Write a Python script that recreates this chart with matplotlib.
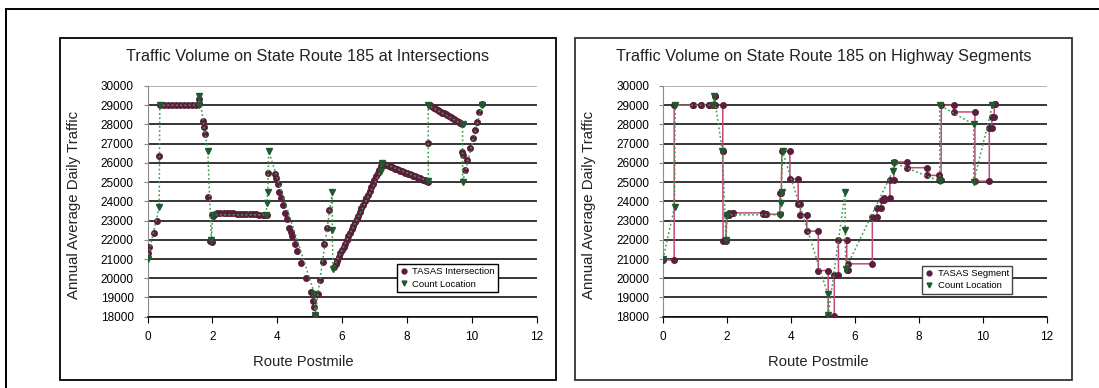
import matplotlib
matplotlib.use("Agg")
import matplotlib.pyplot as plt
from matplotlib.patches import Rectangle
from matplotlib.lines import Line2D

plt.rcParams["font.family"] = ["Liberation Sans", "DejaVu Sans"]

W, H = 1099, 388

# ---- data ----
yticks = list(range(18000, 30001, 1000))
xticks = list(range(0, 13, 2))

# TASAS intersections (left chart)
int_x = [0.02, 0.06, 0.20, 0.28, 0.36,
         0.40, 0.50, 0.62, 0.75, 0.88, 1.00, 1.12, 1.25, 1.38, 1.50, 1.58, 1.60,
         1.72, 1.75, 1.78, 1.86, 1.94, 1.98,
         2.00, 2.03, 2.08, 2.15, 2.25, 2.35, 2.45, 2.55, 2.65, 2.75, 2.85, 2.95,
         3.05, 3.15, 3.25, 3.35, 3.45, 3.55, 3.63, 3.68,
         3.73,
         3.93, 3.97, 4.02, 4.07, 4.12, 4.18, 4.25, 4.30, 4.38, 4.42, 4.45, 4.55,
         4.62, 4.72, 4.90, 5.05, 5.12, 5.15, 5.17,
         5.27, 5.32, 5.40, 5.46, 5.53, 5.60,
         5.75, 5.80, 5.85, 5.90, 5.95, 6.00, 6.05, 6.10, 6.15, 6.20, 6.25, 6.30,
         6.35, 6.40, 6.45, 6.50, 6.55, 6.60, 6.65, 6.70, 6.75, 6.80, 6.85, 6.90,
         6.95, 7.00, 7.05, 7.10, 7.15, 7.20, 7.24,
         7.30, 7.35, 7.40, 7.45, 7.50, 7.55, 7.60, 7.65, 7.70, 7.75, 7.80, 7.85,
         7.90, 7.95, 8.00, 8.05, 8.10, 8.15, 8.20, 8.25, 8.30, 8.35, 8.40, 8.45,
         8.50, 8.55, 8.60, 8.65,
         8.66,
         8.70, 8.75, 8.80, 8.85, 8.90, 8.95, 9.00, 9.05, 9.10, 9.15, 9.20, 9.25,
         9.30, 9.35, 9.40, 9.45, 9.50, 9.55, 9.60, 9.65, 9.70,
         9.69, 9.72,
         9.79, 9.86, 9.95, 10.03, 10.10, 10.15, 10.23, 10.31]
int_y = [21300, 21650, 22350, 23000, 26350,
         29000, 29000, 29000, 29000, 29000, 29000, 29000, 29000, 29000, 29000, 29050, 29300,
         28200, 27850, 27500, 24250, 21950, 21900,
         23300, 23250, 23350, 23400, 23400, 23400, 23400, 23380, 23380, 23360, 23360, 23350,
         23350, 23340, 23330, 23320, 23310, 23300, 23300, 23300,
         25500,
         25400, 25200, 24900, 24500, 24200, 23800, 23400, 23100, 22600, 22400, 22200, 21800,
         21400, 20800, 20000, 19300, 18800, 18500, 18100,
         19200, 19900, 20850, 21800, 22600, 23550,
         20600, 20750, 20900, 21100, 21300, 21450, 21650, 21800, 22000, 22200, 22350, 22550,
         22700, 22900, 23100, 23250, 23450, 23650, 23800, 24000, 24200, 24350, 24550, 24750,
         24900, 25100, 25300, 25450, 25650, 25850, 26000,
         25950, 25900, 25880, 25850, 25800, 25770, 25730, 25700, 25670, 25630, 25600, 25570,
         25530, 25500, 25470, 25430, 25400, 25370, 25330, 25300, 25270, 25230, 25200, 25170,
         25130, 25100, 25070, 25030,
         27050,
         29000, 28950, 28900, 28850, 28800, 28760, 28720, 28670, 28620, 28570, 28520, 28480,
         28430, 28380, 28330, 28280, 28230, 28180, 28140, 28090, 28040,
         26550, 26400,
         25650, 26150, 26750, 27300, 27700, 28150, 28650, 29050]

# TASAS highway segments (right chart): begin, end, AADT
seg_begin = [0.00, 0.35, 0.95, 1.18, 1.45, 1.55, 1.62, 1.64, 1.87, 1.88, 1.99, 2.05, 2.20,
             3.14, 3.22, 3.67, 3.72, 3.97, 4.23, 4.30, 4.50, 4.86, 5.17, 5.36, 5.49,
             5.75, 5.80, 6.55, 6.70, 6.84, 6.90, 7.10, 7.24, 7.64, 8.27, 8.65, 8.71,
             9.10, 9.76, 10.21, 10.30, 10.38]
seg_end = [0.35, 0.95, 1.18, 1.45, 1.55, 1.62, 1.64, 1.87, 1.87, 1.97, 2.05, 2.20, 3.12,
           3.22, 3.65, 3.70, 3.97, 4.23, 4.30, 4.50, 4.86, 5.17, 5.36, 5.49, 5.75,
           5.80, 6.55, 6.70, 6.82, 6.90, 7.10, 7.22, 7.64, 8.27, 8.65, 8.70, 9.10,
           9.76, 10.21, 10.28, 10.35, 10.40]
seg_aadt = [20950, 29000, 29000, 29000, 29000, 29000, 29500, 29000, 26600, 21950, 23300,
            23400, 23400, 23350, 23330, 24450, 26600, 25150, 23850, 23300, 22450, 20400,
            18050, 20150, 22000, 20450, 20750, 23200, 23650, 24050, 24150, 25100, 26050,
            25750, 25350, 25100, 29000, 28650, 25050, 27800, 28400, 29050]

# Count locations (both charts)
cnt_x = [0.00, 0.36, 0.38, 1.58, 1.60, 1.86, 1.97, 2.01, 3.66, 3.68, 3.71, 3.74, 5.15,
         5.17, 5.70, 5.70, 5.72, 7.20, 7.23, 8.66, 8.66, 9.72, 9.72, 10.31]
cnt_y = [21000, 23700, 29000, 29000, 29500, 26600, 22000, 23300, 23300, 23900, 24500,
         26600, 19200, 18100, 24500, 22500, 20500, 25600, 26000, 25050, 29000, 28000,
         25000, 29000]

MAROON = "#5a1e3c"
PINK = "#c4487a"
GREEN_M = "#1f5a2c"
GREEN_L = "#3f9e4e"

fig = plt.figure(figsize=(W / 100, H / 100), dpi=100)


def px_rect(x0, y0, x1, y1):
    return [x0 / W, 1 - y1 / H, (x1 - x0) / W, (y1 - y0) / H]


def style_axes(ax):
    ax.set_xlim(0, 12)
    ax.set_ylim(18000, 30000)
    ax.set_xticks(xticks)
    ax.set_yticks(yticks)
    ax.set_axisbelow(True)
    ax.yaxis.grid(True, color="black", lw=1.1)
    ax.get_ygridlines()[-1].set_color("#a0a0a0")
    for s in ["top", "right"]:
        ax.spines[s].set_visible(False)
    ax.spines["left"].set_color("#8a8a8a")
    ax.spines["bottom"].set_color("black")
    ax.spines["bottom"].set_linewidth(1.1)
    ax.tick_params(axis="y", length=3, color="#8a8a8a", labelsize=8.5, pad=7)
    ax.tick_params(axis="x", length=4.5, color="black", labelsize=8.5, pad=5.5)
    ax.set_ylabel("Annual Average Daily Traffic", fontsize=10.8, color="#222222")
    ax.set_xlabel("Route Postmile", fontsize=10.6, color="#222222")


# left panel
ax1 = fig.add_axes(px_rect(147.5, 86, 536.5, 316.7))
style_axes(ax1)
ax1.plot(int_x, int_y, ls="none", marker="o", ms=4, color=MAROON,
         label="TASAS Intersection", zorder=3)
ax1.plot(cnt_x, cnt_y, ls=(0, (1.2, 1.6)), lw=1.1, color=GREEN_L, marker="v",
         ms=4, mfc=GREEN_M, mec=GREEN_M, label="Count Location", zorder=4)
ax1.yaxis.set_label_coords(-0.17, 0.484)
ax1.xaxis.set_label_coords(0.40, -0.166)
leg1 = ax1.legend(loc="upper left", bbox_to_anchor=(0.641, 0.228), fontsize=6.8,
                  frameon=True, fancybox=False, edgecolor="black", framealpha=1,
                  borderpad=0.35, handlelength=0.8, handletextpad=0.5, labelspacing=0.35,
                  borderaxespad=0)
leg1.get_frame().set_linewidth(1.0)
for h in leg1.legend_handles:
    h.set_linestyle("none")
    h.set_markersize(3.5)

# right panel
ax2 = fig.add_axes(px_rect(663, 86, 1046.5, 316.7))
style_axes(ax2)
path_x, path_y = [], []
for b, e, v in zip(seg_begin, seg_end, seg_aadt):
    path_x += [b, e]
    path_y += [v, v]
ax2.plot(path_x, path_y, color=PINK, lw=1.1, marker="o", ms=4, mfc=MAROON,
         mec=MAROON, label="TASAS Segment", zorder=3)
ax2.plot(cnt_x, cnt_y, ls=(0, (1.2, 1.6)), lw=1.1, color=GREEN_L, marker="v",
         ms=4, mfc=GREEN_M, mec=GREEN_M, label="Count Location", zorder=4)
ax2.yaxis.set_label_coords(-0.174, 0.484)
ax2.xaxis.set_label_coords(0.405, -0.166)
leg2 = ax2.legend(loc="upper left", bbox_to_anchor=(0.676, 0.221), fontsize=6.8,
                  frameon=True, fancybox=False, edgecolor="#444444", framealpha=1,
                  borderpad=0.35, handlelength=0.8, handletextpad=0.5, labelspacing=0.35,
                  borderaxespad=0)
leg2.get_frame().set_linewidth(1.0)
for h in leg2.legend_handles:
    h.set_linestyle("none")
    h.set_markersize(3.5)

# titles
fig.text(308 / W, 1 - 56.7 / H, "Traffic Volume on State Route 185 at Intersections",
         ha="center", va="center", fontsize=11.7, color="#222222")
fig.text(824 / W, 1 - 56.7 / H, "Traffic Volume on State Route 185 on Highway Segments",
         ha="center", va="center", fontsize=11.7, color="#222222")

# panel frames and outer frame
fig.add_artist(Rectangle((59.6 / W, 1 - 380 / H), (556 - 59.6) / W, (380 - 38) / H,
                         transform=fig.transFigure, fill=False, ec="black", lw=1.3))
fig.add_artist(Rectangle((575.3 / W, 1 - 380 / H), (1071.6 - 575.3) / W, (380 - 38) / H,
                         transform=fig.transFigure, fill=False, ec="#333333", lw=1.3))
fig.add_artist(Line2D([6.3 / W, 1], [1 - 8.5 / H, 1 - 8.5 / H],
                      transform=fig.transFigure, color="black", lw=1.4))
fig.add_artist(Line2D([6.3 / W, 6.3 / W], [0, 1 - 8.5 / H],
                      transform=fig.transFigure, color="black", lw=1.4))

fig.savefig("out.png", dpi=100)
